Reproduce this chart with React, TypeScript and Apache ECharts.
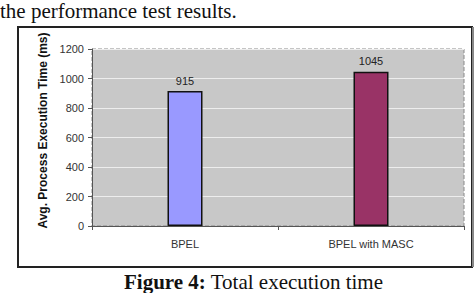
import React, { useEffect, useRef } from "react";
import * as echarts from "echarts";

const categories = ["BPEL", "BPEL with MASC"];
const values = [915, 1045];
const barColors = ["#9999FF", "#993366"];
const yTicks = { min: 0, max: 1200, interval: 200 };
const yAxisName = "Avg. Process Execution Time (ms)";
const topText = "the performance test results.";
const captionBold = "Figure 4:";
const captionText = " Total execution time";

export default function App() {
  const ref = useRef<HTMLDivElement>(null);
  useEffect(() => {
    if (!ref.current) return;
    const chart = echarts.init(ref.current, undefined, { renderer: "svg" });
    const sans = "'Liberation Sans', Arial, sans-serif";
    const serif = "'Liberation Serif', 'Times New Roman', serif";
    chart.setOption({
      animation: false,
      backgroundColor: "#ffffff",
      grid: {
        left: 92,
        right: 10,
        top: 49,
        bottom: 67,
        show: true,
        backgroundColor: "#C8C8C8",
        borderColor: "#8a8a8a",
        borderWidth: 1,
        borderType: "dashed",
      },
      xAxis: {
        type: "category",
        data: categories,
        axisLine: { show: true, lineStyle: { color: "#555", width: 1 } },
        axisTick: { show: true, length: 4, alignWithLabel: false, lineStyle: { color: "#555" } },
        axisLabel: { color: "#333", fontFamily: sans, fontSize: 11, margin: 12 },
        splitLine: { show: false },
      },
      yAxis: {
        type: "value",
        min: yTicks.min,
        max: yTicks.max,
        interval: yTicks.interval,
        name: yAxisName,
        nameLocation: "middle",
        nameGap: 43,
        nameRotate: 90,
        nameTextStyle: {
          color: "#111",
          fontFamily: sans,
          fontSize: 12,
          fontWeight: "bold",
          padding: [0, 0, 0, 14],
        },
        axisLine: { show: true, lineStyle: { color: "#555", width: 1 } },
        axisTick: { show: true, length: 4, lineStyle: { color: "#555" } },
        axisLabel: {
          color: "#333",
          fontFamily: sans,
          fontSize: 11,
          margin: 8,
          formatter: (v: number) => String(v),
        },
        splitLine: { show: true, lineStyle: { color: "#EDEDED", width: 1 } },
      },
      series: [
        {
          type: "bar",
          barWidth: 35,
          data: values.map((v, i) => ({
            value: v,
            itemStyle: { color: barColors[i], borderColor: "#111", borderWidth: 1.5 },
          })),
          label: {
            show: true,
            position: "top",
            distance: 5,
            color: "#222",
            fontFamily: sans,
            fontSize: 11,
          },
        },
      ],
      graphic: [
        {
          type: "rect",
          shape: { x: 18, y: 27, width: 454, height: 240 },
          style: { fill: "none", stroke: "#222", lineWidth: 2 },
          silent: true,
        },
        {
          type: "line",
          shape: { x1: 473, y1: 27, x2: 473, y2: 267 },
          style: { stroke: "#888", lineWidth: 2 },
          silent: true,
        },
        {
          type: "text",
          x: 0,
          y: 0,
          style: {
            text: topText,
            font: `21px ${serif}`,
            fill: "#111",
            verticalAlign: "top",
          },
        },
        {
          type: "text",
          x: 124,
          y: 271,
          style: {
            text: `{b|${captionBold}}{n|${captionText}}`,
            verticalAlign: "top",
            rich: {
              b: { font: `bold 21px ${serif}`, fill: "#111" },
              n: { font: `21px ${serif}`, fill: "#111" },
            },
          },
        },
      ],
    });
    return () => chart.dispose();
  }, []);
  return (
    <div
      ref={ref}
      style={{ position: "fixed", left: 0, top: 0, width: 474, height: 293 }}
    />
  );
}
